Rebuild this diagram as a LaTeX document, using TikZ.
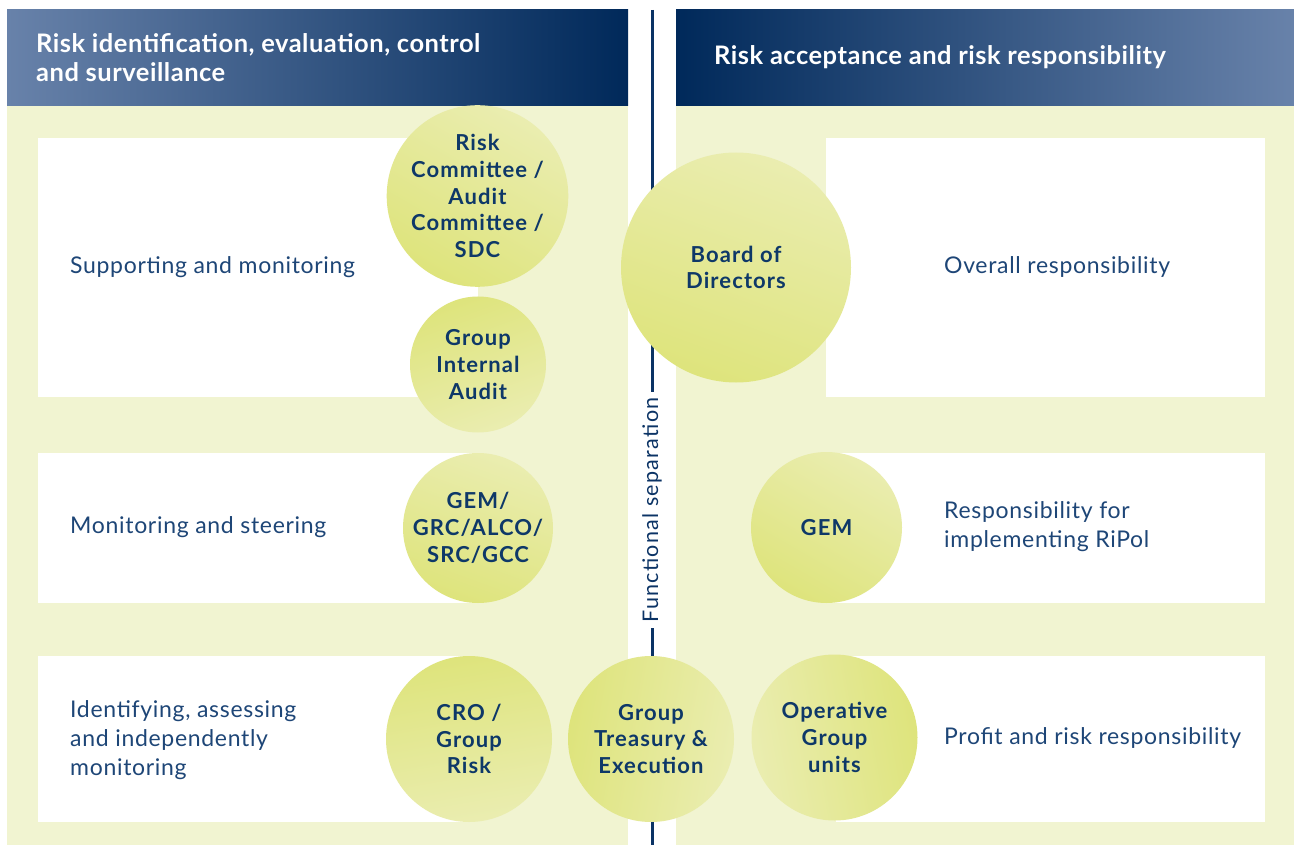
\documentclass[tikz,border=0pt]{standalone}
\usepackage{fontspec}
\setmainfont{Lato}
\newfontfamily\hdrfont{Lato}[LetterSpace=2]
\newfontfamily\bodyfont{Lato}[LetterSpace=3]
\newfontfamily\blobfont{Lato}[LetterSpace=5]
\newfontfamily\sepfont{Lato}[LetterSpace=6]
\definecolor{panelgreen}{HTML}{F1F4D1}
\definecolor{blobdark}{HTML}{DEE47C}
\definecolor{bloblight}{HTML}{EAEDB0}
\definecolor{navytext}{HTML}{0E3868}
\definecolor{bodytext}{HTML}{1E4677}
\definecolor{sepline}{HTML}{0B3365}
\definecolor{hdrdark}{HTML}{00295A}
\definecolor{hdrmid}{HTML}{1F4A7E}
\definecolor{hdrlight}{HTML}{6882AA}
\tikzset{
  panel/.style={fill=panelgreen, draw=none},
  whitebox/.style={fill=white, draw=none},
  hdrtext/.style={anchor=west, align=left, text=white, inner sep=0pt,
    font=\hdrfont\fontsize{25.5}{29.5}\selectfont\bfseries},
  bodylabel/.style={anchor=west, align=left, text=bodytext, inner sep=0pt,
    font=\bodyfont\fontsize{23}{29}\selectfont},
  blob/.style={circle, draw=none, inner sep=0pt, align=center, text=navytext,
    font=\blobfont\fontsize{22}{26.8}\selectfont\bfseries,
    top color=bloblight, bottom color=blobdark},
  seplabel/.style={rotate=90, fill=white, text=sepline, inner xsep=5pt, inner ysep=2pt,
    font=\sepfont\fontsize{21.5}{24}\selectfont}
}
\begin{document}
\begin{tikzpicture}[x=1pt, y=-1pt]
\useasboundingbox (0,0) rectangle (1294,845);
\fill[white] (0,0) rectangle (1294,845);

% green panels
\fill[panel] (7,106) rectangle (628,845);
\fill[panel] (676,106) rectangle (1294,845);

% header bars
\shade[left color=hdrlight, middle color=hdrmid, right color=hdrdark] (7,10) rectangle (628,106);
\shade[left color=hdrdark, middle color=hdrmid, right color=hdrlight] (676,10) rectangle (1294,106);
\node[hdrtext] (hdrL) at (36,57.5) {Risk identification, evaluation, control\\and surveillance};
\node[hdrtext] (hdrR) at (714,57.5) {Risk acceptance and risk responsibility};

% white row boxes
\fill[whitebox] (38,138) rectangle (478,397);
\fill[whitebox] (38,453) rectangle (478,603);
\fill[whitebox] (38,656) rectangle (470,822);
\fill[whitebox] (826,138) rectangle (1265,397);
\fill[whitebox] (832,453) rectangle (1265,603);
\fill[whitebox] (836,656) rectangle (1265,822);

% separator between the two sides
\coordinate (sepTop) at (652,10);
\coordinate (sepBot) at (652,845);
\draw[sepline, line width=3pt] (sepTop) -- (sepBot);
\node[seplabel] (sep) at (652,510) {Functional separation};

% row descriptions
\node[bodylabel] (l1) at (70,267) {Supporting and monitoring};
\node[bodylabel] (l2) at (70,527) {Monitoring and steering};
\node[bodylabel] (l3) at (70,740) {Identifying, assessing\\and independently\\monitoring};
\node[bodylabel] (r1) at (944,267) {Overall responsibility};
\node[bodylabel] (r2) at (944,527) {Responsibility for\\implementing RiPol};
\node[bodylabel] (r3) at (944,738) {Profit and risk responsibility};

% bodies
\node[blob, minimum size=166pt, shading angle=-30] (rc) at (477.5,196) {Risk\\Committee /\\Audit\\Committee /\\SDC};
\node[blob, minimum size=136pt, shading angle=200] (gia) at (478,364.5) {Group\\Internal\\Audit};
\node[blob, minimum size=150pt, shading angle=-20] (gem1) at (478,528) {GEM/\\GRC/ALCO/\\SRC/GCC};
\node[blob, minimum size=166pt, shading angle=190] (cro) at (469,739) {CRO /\\Group\\Risk};
\node[blob, minimum size=166pt, shading angle=-100] (gte) at (651,739) {Group\\Treasury \&\\Execution};
\node[blob, minimum size=230pt, shading angle=-20] (bod) at (736,267.5) {Board of\\Directors};
\node[blob, minimum size=151pt, shading angle=-30] (gem2) at (826.5,527.5) {GEM};
\node[blob, minimum size=166pt, shading angle=100] (ogu) at (834.5,737.5) {Operative\\Group\\units};
\end{tikzpicture}
\end{document}
